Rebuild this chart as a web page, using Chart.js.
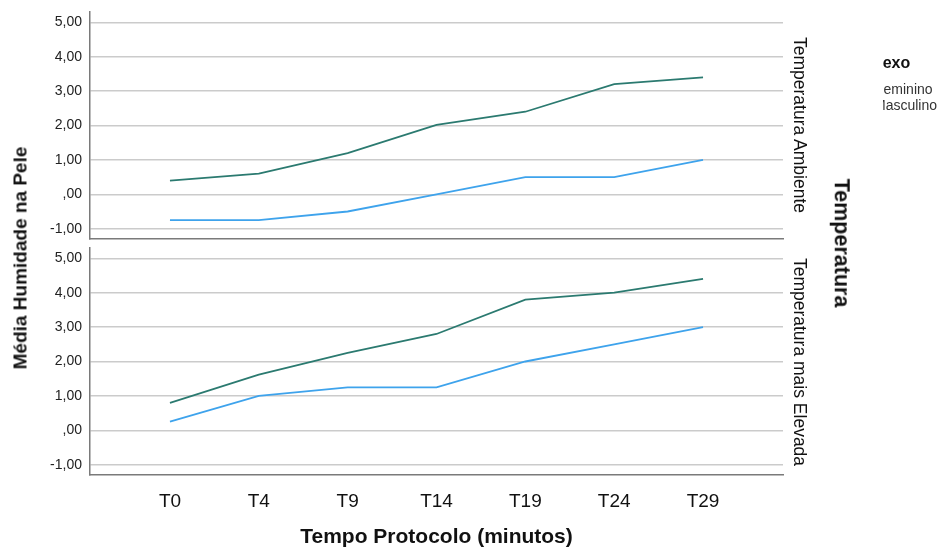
<!DOCTYPE html>
<html>
<head>
<meta charset="utf-8">
<script src="https://cdn.jsdelivr.net/npm/chart.js@4/dist/chart.umd.min.js"></script>
<style>
  body { margin: 0; background: #fff; font-family: "Liberation Sans", Arial, sans-serif; }
  #wrap { position: relative; width: 942px; height: 553px; overflow: hidden; }
  canvas { position: absolute; left: 0; }
  .lbl { position: absolute; white-space: nowrap; line-height: 1; color: #111; }
  .cw { transform: translate(-50%, -50%) rotate(90deg); }
  .ccw { transform: translate(-50%, -50%) rotate(-90deg); }
  #legend { position: absolute; left: 883px; top: 0; width: 59px; height: 130px; overflow: hidden; }
  #legend div { position: absolute; white-space: nowrap; line-height: 1; }
</style>
</head>
<body>
<div id="wrap">
  <canvas id="panelTop" width="942" height="245" style="top:0;width:942px;height:245px"></canvas>
  <canvas id="panelBottom" width="942" height="308" style="top:245px;width:942px;height:308px"></canvas>

  <div class="lbl ccw" style="left:20px;top:258px;font-size:19px;font-weight:bold">Média Humidade na Pele</div>
  <div class="lbl cw" style="left:799px;top:125px;font-size:17.5px">Temperatura Ambiente</div>
  <div class="lbl cw" style="left:799px;top:362px;font-size:17.5px">Temperatura mais Elevada</div>
  <div class="lbl cw" style="left:841px;top:243px;font-size:21.5px;font-weight:bold">Temperatura</div>

  <div id="legend">
    <div style="left:-11px;top:55px;font-size:16px;font-weight:bold;color:#111">Sexo</div>
    <div style="left:-8px;top:82px;font-size:14px;color:#333">Feminino</div>
    <div style="left:-9px;top:98px;font-size:14px;color:#333">Masculino</div>
  </div>
</div>

<script>
// data
const categories = ['T0', 'T4', 'T9', 'T14', 'T19', 'T24', 'T29'];
const ambienteFeminino  = [0.40, 0.60, 1.20, 2.02, 2.40, 3.20, 3.40];
const ambienteMasculino = [-0.75, -0.75, -0.50, 0.00, 0.50, 0.50, 1.00];
const elevadaFeminino   = [0.80, 1.62, 2.25, 2.80, 3.80, 4.00, 4.40];
const elevadaMasculino  = [0.25, 1.00, 1.25, 1.25, 2.00, 2.50, 3.00];
const yTicks = [-1, 0, 1, 2, 3, 4, 5];

const teal = '#2b7a70';
const blue = '#3ea3ec';

Chart.defaults.font.family = '"Liberation Sans", Arial, sans-serif';

function fmt(v) {
  if (v === 0) return ',00';
  return v.toFixed(2).replace('.', ',');
}

function points(arr) {
  return arr.map((v, i) => ({ x: i, y: v }));
}

function makePanel(id, fem, masc, isBottom) {
  var ctx = document.getElementById(id).getContext('2d');
  return new Chart(ctx, {
    type: 'line',
    data: {
      datasets: [{
        label: 'Feminino',
        data: points(fem),
        borderColor: teal,
        borderWidth: 1.8,
        pointRadius: 0,
        fill: false
      }, {
        label: 'Masculino',
        data: points(masc),
        borderColor: blue,
        borderWidth: 1.8,
        pointRadius: 0,
        fill: false
      }]
    },
    options: {
      responsive: false,
      animation: false,
      layout: { padding: { top: isBottom ? 3 : 12, right: 159, left: 0, bottom: 0 } },
      plugins: {
        legend: { display: false },
        tooltip: { enabled: false }
      },
      scales: {
        x: {
          type: 'linear',
          min: -0.9,
          max: 6.9,
          afterBuildTicks: s => { s.ticks = categories.map((c, i) => ({ value: i })); },
          afterFit: s => { s.height = isBottom ? 78 : 6; s.paddingLeft = 0; s.paddingRight = 0; },
          grid: { display: false },
          border: { display: true, color: '#7a7a7a', width: 1.5 },
          ticks: {
            display: isBottom,
            autoSkip: false,
            maxRotation: 0,
            padding: 7,
            color: '#111',
            font: { size: 19 },
            callback: v => categories[v]
          },
          title: {
            display: isBottom,
            text: 'Tempo Protocolo (minutos)',
            color: '#111',
            font: { size: 21, weight: 'bold' },
            padding: { top: 0, bottom: 3 }
          }
        },
        y: {
          min: -1.3,
          max: 5.3,
          afterBuildTicks: s => { s.ticks = yTicks.map(v => ({ value: v })); },
          // keep the plot area where the layout padding puts it
          afterFit: s => { s.width = 90; s.paddingTop = 0; s.paddingBottom = 0; },
          grid: { color: '#cbcbcb', lineWidth: 1.5, drawTicks: false },
          border: { display: true, color: '#7a7a7a', width: 1.5 },
          ticks: {
            padding: 8,
            color: '#222',
            font: { size: 14 },
            callback: v => fmt(v)
          }
        }
      }
    }
  });
}

makePanel('panelTop', ambienteFeminino, ambienteMasculino, false);
makePanel('panelBottom', elevadaFeminino, elevadaMasculino, true);
</script>
</body>
</html>
